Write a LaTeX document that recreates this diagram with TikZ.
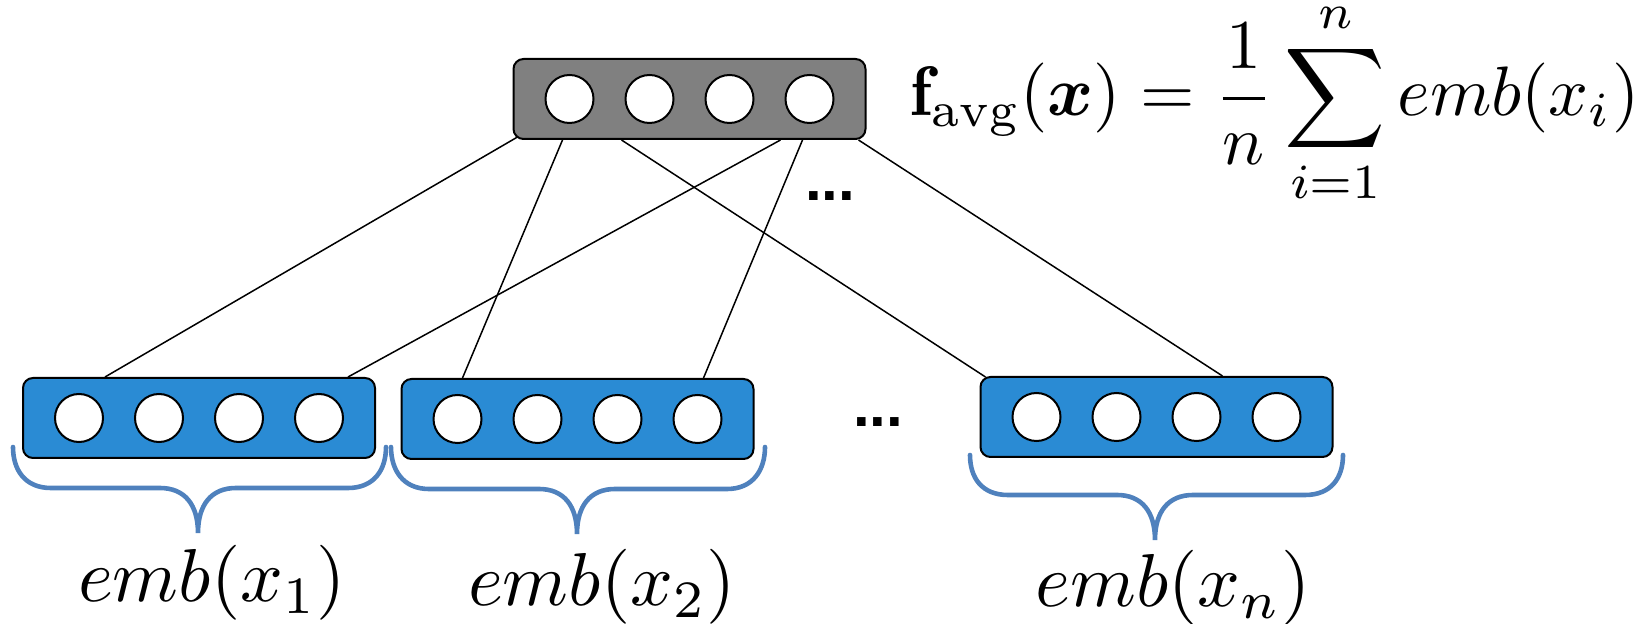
\documentclass[tikz,border=0pt]{standalone}
\usepackage{amsmath}
\usepackage{bm}
\usepackage{fontspec}
\newfontfamily\dotsfont{Liberation Sans}
\usetikzlibrary{calc}
\definecolor{boxblue}{RGB}{42,139,212}
\definecolor{boxgray}{RGB}{128,128,128}
\definecolor{bracecol}{RGB}{79,129,189}
\tikzset{
  vecbox/.style={draw=black, line width=1pt, rounded corners=5pt, minimum width=176pt, minimum height=40pt, inner sep=0pt},
  cnode/.style={circle, draw=black, fill=white, line width=1pt, minimum size=24pt, inner sep=0pt},
  conn/.style={draw=black, line width=0.75pt},
  bracestyle/.style={draw=bracecol, line width=2.3pt, line cap=round},
  lbl/.style={inner sep=0pt, anchor=base, scale=3.75},
  dotslbl/.style={inner sep=0pt, font=\dotsfont\bfseries\fontsize{30}{36}\selectfont},
}
\newcommand\curlybr[5]{%
  \draw[bracestyle] (#1,#3) .. controls (#1,#3+23) and (#1+12,#4) .. (#1+38,#4)
    -- (#5-38,#4) .. controls (#5-13,#4) and (#5,#4+17) .. (#5,#4+45)
    .. controls (#5,#4+17) and (#5+13,#4) .. (#5+38,#4)
    -- (#2-38,#4) .. controls (#2-12,#4) and (#2,#3+23) .. (#2,#3);
}
\begin{document}
\begin{tikzpicture}[x=0.5pt,y=-0.5pt]
\useasboundingbox (0,0) rectangle (1633,624);
% boxes
\node[vecbox, fill=boxgray] (top) at (689.5,99) {};
\node[vecbox, fill=boxblue] (b1) at (199,418) {};
\node[vecbox, fill=boxblue] (b2) at (577.5,419) {};
\node[vecbox, fill=boxblue] (bn) at (1156.5,417) {};
\foreach \b in {top,b1,b2,bn}{
  \foreach \i/\dx in {1/-120,2/-40,3/40,4/120}{
    \node[cnode] (\b c\i) at ($(\b.center)+(\dx,0)$) {};
  }
}
% connectors
\draw[conn] ($(top.south west)+(5,-3)$) -- ($(b1.north west)+(83,0)$);
\draw[conn] ($(top.south west)+(50,0)$) -- ($(b2.north west)+(62,0)$);
\draw[conn] ($(top.south west)+(109,0)$) -- ($(bn.north west)+(6,1)$);
\draw[conn] ($(top.south west)+(268,0)$) -- ($(b1.north west)+(326,0)$);
\draw[conn] ($(top.south west)+(290,0)$) -- ($(b2.north west)+(303,0)$);
\draw[conn] ($(top.south west)+(346,0)$) -- ($(bn.north west)+(243,0)$);
% dots
\node[dotslbl] (dotsA) at (830,196) {...};
\node[dotslbl] (dotsB) at (878,422) {...};
% braces
\curlybr{13}{386}{447}{488}{198}
\curlybr{391}{765}{447}{489}{577}
\curlybr{970}{1343}{455}{495}{1155}
% labels
\node[lbl] (l1) at (212,602) {$emb(x_1)$};
\node[lbl] (l2) at (602,606) {$emb(x_2)$};
\node[lbl] (ln) at (1173,607) {$emb(x_n)$};
% formula
\node[inner sep=0pt, anchor=base west, scale=3.5] (formula) at (909,116)
  {$\displaystyle \mathbf{f}_{\mathrm{avg}}(\bm{x}) = \frac{1}{n}\sum_{i=1}^{n} emb(x_i)$};
\end{tikzpicture}
\end{document}
